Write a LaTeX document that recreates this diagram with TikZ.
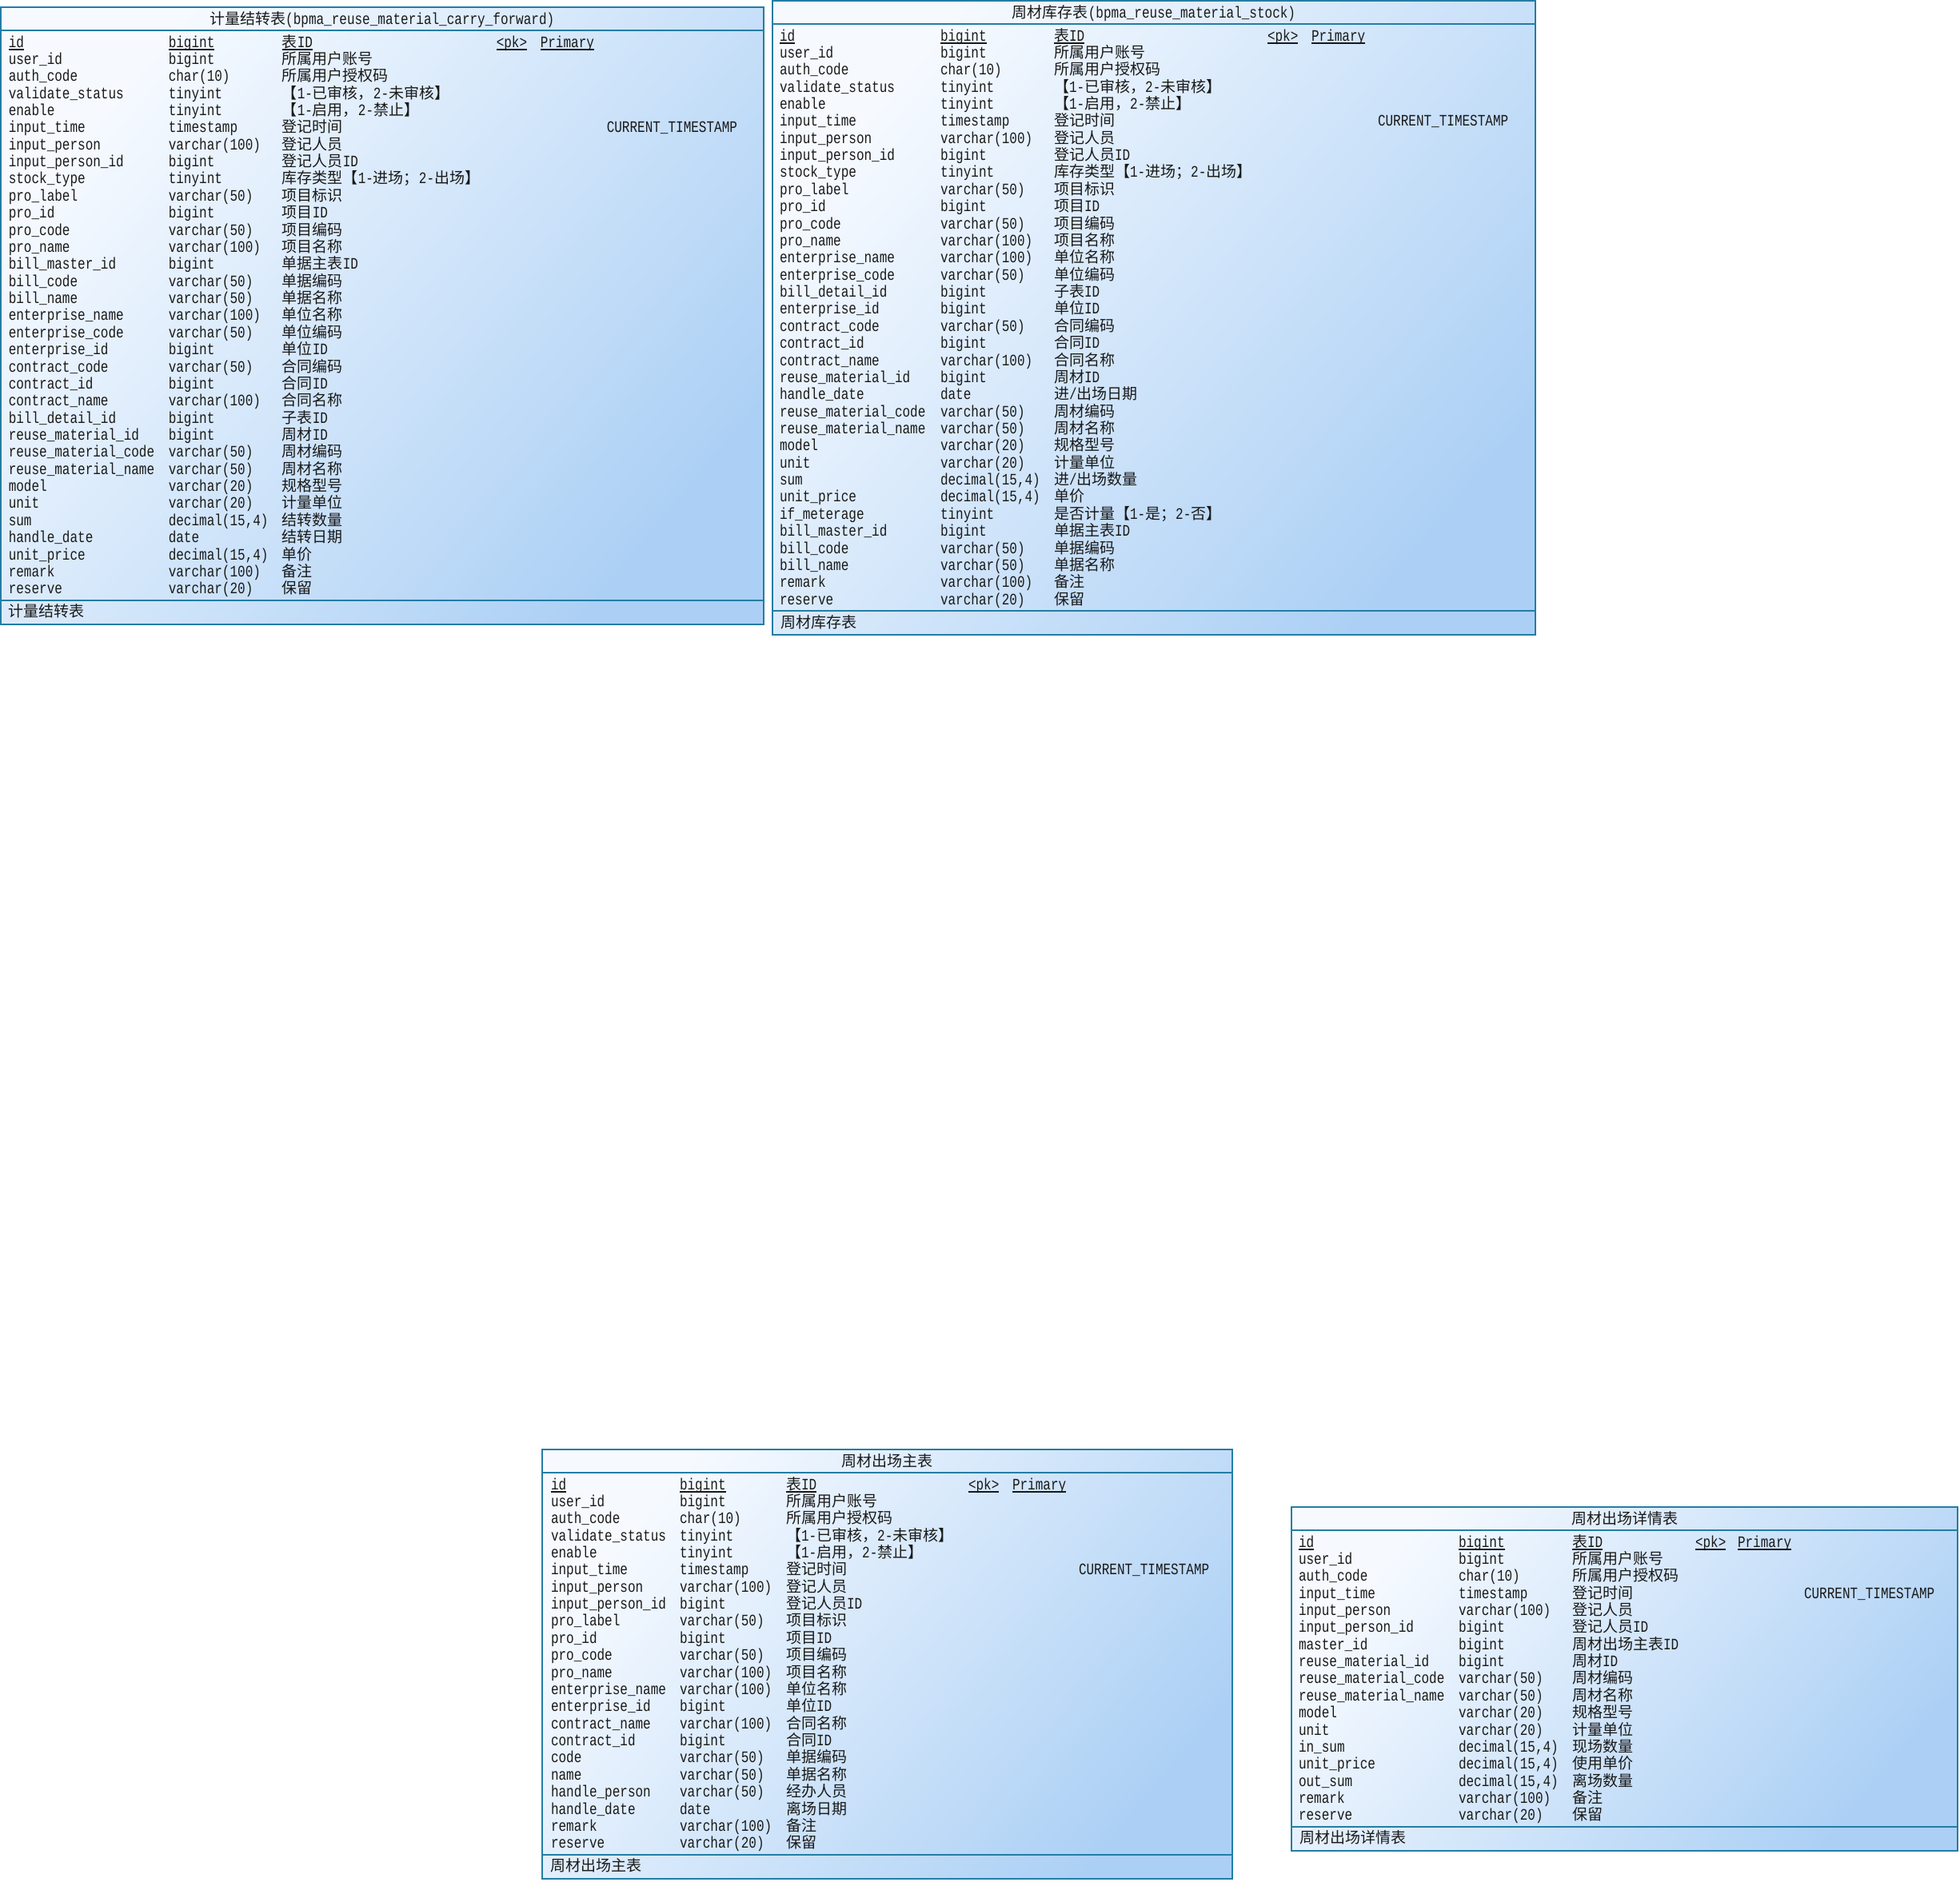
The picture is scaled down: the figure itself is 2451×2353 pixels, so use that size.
\documentclass[tikz,border=0pt]{standalone}
\usepackage{fontspec}
\setmainfont{Liberation Mono}[FakeStretch=0.8]
\newfontfamily\cjkfont{Noto Sans CJK SC}
\newcommand\cj[1]{{\cjkfont\fontsize{19}{22}\selectfont #1}}
\newcommand\ul[1]{\setbox0\hbox{#1}\rlap{\vrule height -2.2pt depth 3.6pt width \wd0}\box0}
\newcounter{rowc}
\definecolor{bord}{RGB}{35,125,165}
\definecolor{shlight}{RGB}{246,250,255}
\definecolor{shdark}{RGB}{172,208,245}
\definecolor{txt}{RGB}{25,25,25}
\tikzset{
 tblbox/.style={draw=bord, line width=1.5pt, top color=shlight, bottom color=shdark, shading angle=50, anchor=north west, inner sep=0pt, outer sep=0pt},
 sepline/.style={draw=bord, line width=2.5pt},
 cell/.style={anchor=base west, inner sep=0pt, outer sep=0pt, text=txt, font=\fontsize{20}{22}\selectfont},
 ttl/.style={anchor=base, inner sep=0pt, outer sep=0pt, text=txt, font=\fontsize{20}{22}\selectfont},
}
% id left top width nrows title footer
\newcommand\tbl[7]{%
  \def\tid{#1}\def\tleft{#2}%
  \setcounter{rowc}{0}%
  \pgfmathsetmacro\hh{88+(#5-1)*21.37}%
  \node[tblbox, minimum width=#4pt, minimum height=\hh pt] (#1) at (#2,#3) {};
  \draw[sepline] ([yshift=-29pt]#1.north west) -- ([yshift=-29pt]#1.north east);
  \draw[sepline] ([yshift=30pt]#1.south west) -- ([yshift=30pt]#1.south east);
  \pgfmathsetmacro\tx{#2+#4/2}%
  \pgfmathsetmacro\tty{#3+21}%
  \node[ttl] (#1title) at (\tx,\tty) {#6};
  \pgfmathsetmacro\fty{#3+\hh-9}%
  \pgfmathsetmacro\fx{#2+10}%
  \node[cell] (#1foot) at (\fx,\fty) {#7};
  \pgfmathsetmacro\firsty{#3+44+6}%
}
\newcommand\cols[6]{\def\ca{#1}\def\cb{#2}\def\cc{#3}\def\cd{#4}\def\ce{#5}\def\cf{#6}}
\newcommand\R[3]{%
  \stepcounter{rowc}%
  \pgfmathsetmacro\ry{\firsty+(\arabic{rowc}-1)*21.37}%
  \node[cell] (\tid n\arabic{rowc}) at (\tleft+\ca,\ry) {#1};
  \node[cell] (\tid t\arabic{rowc}) at (\tleft+\cb,\ry) {#2};
  \node[cell] (\tid c\arabic{rowc}) at (\tleft+\cc,\ry) {#3};
}
\newcommand\Rpk[3]{\R{\ul{#1}}{\ul{#2}}{\ul{#3}}%
  \node[cell] (\tid pk) at (\tleft+\cd,\ry) {\ul{<pk>}};
  \node[cell] (\tid prim) at (\tleft+\ce,\ry) {\ul{Primary}};
}
\newcommand\Rcur[3]{\R{#1}{#2}{#3}%
  \node[cell] (\tid cur) at (\tleft+\cf,\ry) {CURRENT\_TIMESTAMP};
}
\begin{document}
\begin{tikzpicture}[x=1pt,y=-1pt]
\useasboundingbox (0,0) rectangle (2451,2353);
\fill[white] (0,0) rectangle (2451,2353);

% ---------- Table 1 ----------
\tbl{ta}{0.75}{9}{954}{33}{\cj{计量结转表}(bpma\_reuse\_material\_carry\_forward)}{\cj{计量结转表}}
\cols{10}{210}{352}{620}{675}{758}
\Rpk{id}{bigint}{\cj{表}ID}
\R{user\_id}{bigint}{\cj{所属用户账号}}
\R{auth\_code}{char(10)}{\cj{所属用户授权码}}
\R{validate\_status}{tinyint}{\cj{【}1-\cj{已审核，}2-\cj{未审核】}}
\R{enable}{tinyint}{\cj{【}1-\cj{启用，}2-\cj{禁止】}}
\Rcur{input\_time}{timestamp}{\cj{登记时间}}
\R{input\_person}{varchar(100)}{\cj{登记人员}}
\R{input\_person\_id}{bigint}{\cj{登记人员}ID}
\R{stock\_type}{tinyint}{\cj{库存类型【}1-\cj{进场；}2-\cj{出场】}}
\R{pro\_label}{varchar(50)}{\cj{项目标识}}
\R{pro\_id}{bigint}{\cj{项目}ID}
\R{pro\_code}{varchar(50)}{\cj{项目编码}}
\R{pro\_name}{varchar(100)}{\cj{项目名称}}
\R{bill\_master\_id}{bigint}{\cj{单据主表}ID}
\R{bill\_code}{varchar(50)}{\cj{单据编码}}
\R{bill\_name}{varchar(50)}{\cj{单据名称}}
\R{enterprise\_name}{varchar(100)}{\cj{单位名称}}
\R{enterprise\_code}{varchar(50)}{\cj{单位编码}}
\R{enterprise\_id}{bigint}{\cj{单位}ID}
\R{contract\_code}{varchar(50)}{\cj{合同编码}}
\R{contract\_id}{bigint}{\cj{合同}ID}
\R{contract\_name}{varchar(100)}{\cj{合同名称}}
\R{bill\_detail\_id}{bigint}{\cj{子表}ID}
\R{reuse\_material\_id}{bigint}{\cj{周材}ID}
\R{reuse\_material\_code}{varchar(50)}{\cj{周材编码}}
\R{reuse\_material\_name}{varchar(50)}{\cj{周材名称}}
\R{model}{varchar(20)}{\cj{规格型号}}
\R{unit}{varchar(20)}{\cj{计量单位}}
\R{sum}{decimal(15,4)}{\cj{结转数量}}
\R{handle\_date}{date}{\cj{结转日期}}
\R{unit\_price}{decimal(15,4)}{\cj{单价}}
\R{remark}{varchar(100)}{\cj{备注}}
\R{reserve}{varchar(20)}{\cj{保留}}

% ---------- Table 2 ----------
\tbl{tb}{966}{1}{954}{34}{\cj{周材库存表}(bpma\_reuse\_material\_stock)}{\cj{周材库存表}}
\cols{9}{210}{352}{619}{674}{757}
\Rpk{id}{bigint}{\cj{表}ID}
\R{user\_id}{bigint}{\cj{所属用户账号}}
\R{auth\_code}{char(10)}{\cj{所属用户授权码}}
\R{validate\_status}{tinyint}{\cj{【}1-\cj{已审核，}2-\cj{未审核】}}
\R{enable}{tinyint}{\cj{【}1-\cj{启用，}2-\cj{禁止】}}
\Rcur{input\_time}{timestamp}{\cj{登记时间}}
\R{input\_person}{varchar(100)}{\cj{登记人员}}
\R{input\_person\_id}{bigint}{\cj{登记人员}ID}
\R{stock\_type}{tinyint}{\cj{库存类型【}1-\cj{进场；}2-\cj{出场】}}
\R{pro\_label}{varchar(50)}{\cj{项目标识}}
\R{pro\_id}{bigint}{\cj{项目}ID}
\R{pro\_code}{varchar(50)}{\cj{项目编码}}
\R{pro\_name}{varchar(100)}{\cj{项目名称}}
\R{enterprise\_name}{varchar(100)}{\cj{单位名称}}
\R{enterprise\_code}{varchar(50)}{\cj{单位编码}}
\R{bill\_detail\_id}{bigint}{\cj{子表}ID}
\R{enterprise\_id}{bigint}{\cj{单位}ID}
\R{contract\_code}{varchar(50)}{\cj{合同编码}}
\R{contract\_id}{bigint}{\cj{合同}ID}
\R{contract\_name}{varchar(100)}{\cj{合同名称}}
\R{reuse\_material\_id}{bigint}{\cj{周材}ID}
\R{handle\_date}{date}{\cj{进}/\cj{出场日期}}
\R{reuse\_material\_code}{varchar(50)}{\cj{周材编码}}
\R{reuse\_material\_name}{varchar(50)}{\cj{周材名称}}
\R{model}{varchar(20)}{\cj{规格型号}}
\R{unit}{varchar(20)}{\cj{计量单位}}
\R{sum}{decimal(15,4)}{\cj{进}/\cj{出场数量}}
\R{unit\_price}{decimal(15,4)}{\cj{单价}}
\R{if\_meterage}{tinyint}{\cj{是否计量【}1-\cj{是；}2-\cj{否】}}
\R{bill\_master\_id}{bigint}{\cj{单据主表}ID}
\R{bill\_code}{varchar(50)}{\cj{单据编码}}
\R{bill\_name}{varchar(50)}{\cj{单据名称}}
\R{remark}{varchar(100)}{\cj{备注}}
\R{reserve}{varchar(20)}{\cj{保留}}

% ---------- Table 3 ----------
\tbl{tc}{678}{1813}{863}{22}{\cj{周材出场主表}}{\cj{周材出场主表}}
\cols{11}{172}{305}{533}{588}{671}
\Rpk{id}{bigint}{\cj{表}ID}
\R{user\_id}{bigint}{\cj{所属用户账号}}
\R{auth\_code}{char(10)}{\cj{所属用户授权码}}
\R{validate\_status}{tinyint}{\cj{【}1-\cj{已审核，}2-\cj{未审核】}}
\R{enable}{tinyint}{\cj{【}1-\cj{启用，}2-\cj{禁止】}}
\Rcur{input\_time}{timestamp}{\cj{登记时间}}
\R{input\_person}{varchar(100)}{\cj{登记人员}}
\R{input\_person\_id}{bigint}{\cj{登记人员}ID}
\R{pro\_label}{varchar(50)}{\cj{项目标识}}
\R{pro\_id}{bigint}{\cj{项目}ID}
\R{pro\_code}{varchar(50)}{\cj{项目编码}}
\R{pro\_name}{varchar(100)}{\cj{项目名称}}
\R{enterprise\_name}{varchar(100)}{\cj{单位名称}}
\R{enterprise\_id}{bigint}{\cj{单位}ID}
\R{contract\_name}{varchar(100)}{\cj{合同名称}}
\R{contract\_id}{bigint}{\cj{合同}ID}
\R{code}{varchar(50)}{\cj{单据编码}}
\R{name}{varchar(50)}{\cj{单据名称}}
\R{handle\_person}{varchar(50)}{\cj{经办人员}}
\R{handle\_date}{date}{\cj{离场日期}}
\R{remark}{varchar(100)}{\cj{备注}}
\R{reserve}{varchar(20)}{\cj{保留}}

% ---------- Table 4 ----------
\tbl{td}{1615}{1885}{833}{17}{\cj{周材出场详情表}}{\cj{周材出场详情表}}
\cols{9}{209}{351}{505}{558}{641}
\Rpk{id}{bigint}{\cj{表}ID}
\R{user\_id}{bigint}{\cj{所属用户账号}}
\R{auth\_code}{char(10)}{\cj{所属用户授权码}}
\Rcur{input\_time}{timestamp}{\cj{登记时间}}
\R{input\_person}{varchar(100)}{\cj{登记人员}}
\R{input\_person\_id}{bigint}{\cj{登记人员}ID}
\R{master\_id}{bigint}{\cj{周材出场主表}ID}
\R{reuse\_material\_id}{bigint}{\cj{周材}ID}
\R{reuse\_material\_code}{varchar(50)}{\cj{周材编码}}
\R{reuse\_material\_name}{varchar(50)}{\cj{周材名称}}
\R{model}{varchar(20)}{\cj{规格型号}}
\R{unit}{varchar(20)}{\cj{计量单位}}
\R{in\_sum}{decimal(15,4)}{\cj{现场数量}}
\R{unit\_price}{decimal(15,4)}{\cj{使用单价}}
\R{out\_sum}{decimal(15,4)}{\cj{离场数量}}
\R{remark}{varchar(100)}{\cj{备注}}
\R{reserve}{varchar(20)}{\cj{保留}}
\end{tikzpicture}
\end{document}
